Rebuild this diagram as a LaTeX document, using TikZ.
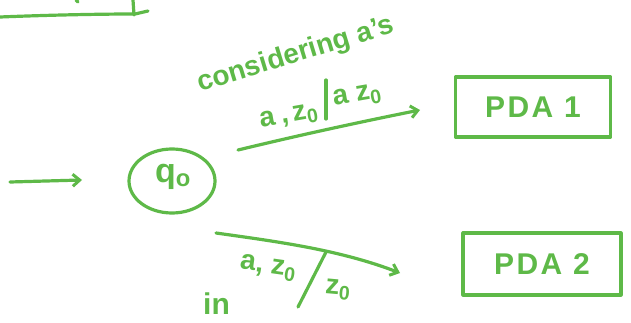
\documentclass[tikz,border=0pt]{standalone}
\usepackage{fontspec}
\setmainfont{Liberation Sans}
\usetikzlibrary{arrows.meta,shapes.geometric}
\definecolor{ink}{RGB}{94,185,72}
\tikzset{
  pen/.style={draw=ink,line width=3.2pt,line cap=round,line join=round},
  arr/.style={pen,-{Straight Barb[length=7pt,width=12pt,line width=3pt]}},
  hand/.style={text=ink,font=\fontsize{28}{30}\selectfont\bfseries,inner sep=0pt},
  pdabox/.style={pen,minimum width=155pt,minimum height=60pt,text=ink,font=\addfontfeature{LetterSpace=8}\fontsize{30}{32}\selectfont\bfseries}
}
\begin{document}
\begin{tikzpicture}[x=1pt,y=-1pt]
\useasboundingbox (0,0) rectangle (631,323);
% partial box at top left
\draw[pen] (0,17) .. controls (50,15) and (100,14) .. (135,14) -- (148,11);
\draw[pen] (133,0) -- (134,15);
\draw[pen] (76,0) -- (78,2);
% state q0
\node[pen,ellipse,minimum width=86pt,minimum height=64pt] (q0) at (172,181) {};
\node[hand,font=\fontsize{34}{36}\selectfont\bfseries] (q0t) at (173,177) {q\textsubscript{o}};
% entry arrow
\coordinate (in0) at (10,182);
\coordinate (in1) at (82,180);
\draw[arr] (in0) -- (in1);
% PDA boxes
\node[pdabox] (pda1) at (533,107) {PDA 1};
\node[pdabox,minimum width=158pt,minimum height=62pt] (pda2) at (542,264) {PDA 2};
% transitions
\coordinate (u0) at (238,150);
\coordinate (u1) at (420,110);
\draw[arr] (u0) .. controls (300,135) and (360,122) .. (u1);
\coordinate (l0) at (216,233);
\coordinate (l1) at (400,273);
\draw[arr] (l0) .. controls (280,242) and (340,250) .. (l1);
% labels upper
\node[hand,rotate=17] (cons) at (296,55) {considering a's};
\node[hand,rotate=10,anchor=east] (lab1a) at (318,112) {a\hspace{6pt},\hspace{4pt}z\textsubscript{0}};
\draw[pen] (326,80) -- (326,119);
\node[hand,rotate=10,anchor=west] (lab1b) at (333,101) {a z\textsubscript{0}};
% labels lower
\node[hand,rotate=-8] (lab2a) at (268,268) {a, z\textsubscript{0}};
\draw[pen] (326,252) -- (298,307);
\node[hand,rotate=-5] (lab2b) at (338,290) {z\textsubscript{0}};
\node[hand,anchor=base west,font=\fontsize{30}{32}\selectfont\bfseries] (partial) at (203,314) {in};
\end{tikzpicture}
\end{document}
